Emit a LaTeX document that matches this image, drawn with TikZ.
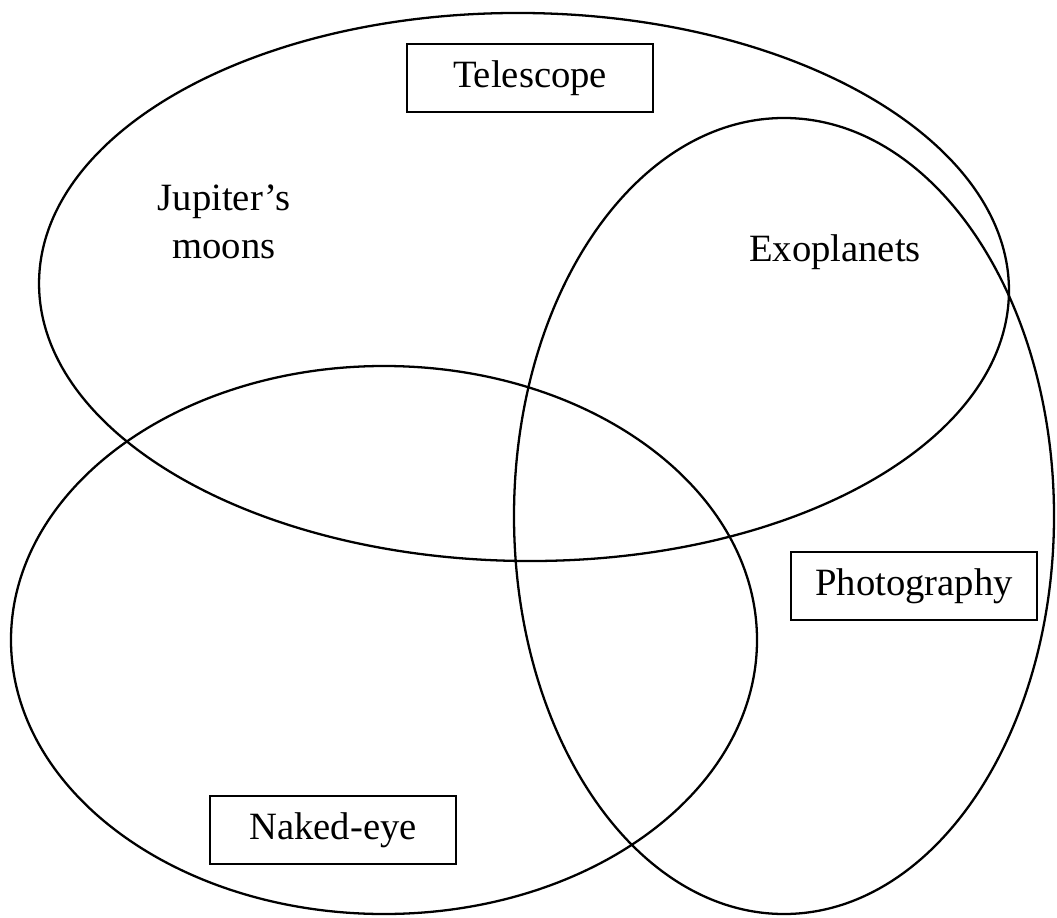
\documentclass[tikz,border=0pt]{standalone}
\usepackage{fontspec}
\setmainfont{Liberation Serif}
\usepackage{tikz}
\tikzstyle{cat}=[shape=rectangle,
                draw=black,
                line width=1.6pt,
                minimum width=4.92cm,
                minimum height=1.36cm,
                font=\fontsize{22}{27}\selectfont]
\tikzstyle{item}=[align=center,
                font=\fontsize{22}{27}\selectfont]
\tikzstyle{set}=[draw=black, line width=1.3pt]

\begin{document}
\begin{tikzpicture}[x=0.02cm,y=0.02cm]
\useasboundingbox (0,0) rectangle (1057,917);

% sets
\draw[set] (524,630) ellipse [x radius=485, y radius=274, rotate=-0.6];
\draw[set] (784,401) ellipse [x radius=270, y radius=398];
\draw[set] (384,277) ellipse [x radius=373, y radius=274];

% set names
\node[cat] (tel) at (530,839) {Telescope};
\node[cat] (pho) at (914,331) {Photography};
\node[cat] (nak) at (333,87)  {Naked-eye};

% members
\node[item] (jup) at (224,695) {Jupiter's\\moons};
\node[item] (exo) at (835,665) {Exoplanets};

\end{tikzpicture}
\end{document}
